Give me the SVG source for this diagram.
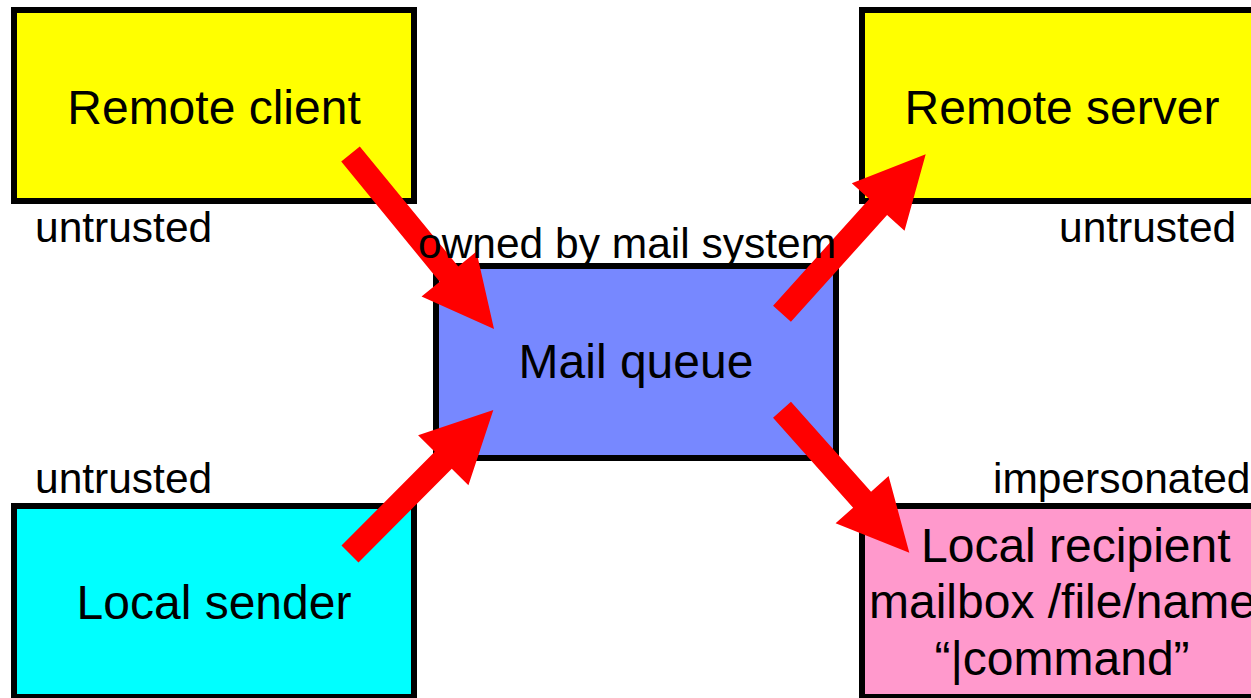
<svg xmlns="http://www.w3.org/2000/svg" width="1251" height="698" viewBox="0 0 1251 698">
  <style>
    .box { stroke: #000000; stroke-width: 6; }
    .big { font-family: "Liberation Sans", Arial, sans-serif; font-size: 48px; fill: #000000; }
    .small { font-family: "Liberation Sans", Arial, sans-serif; font-size: 42.5px; fill: #000000; }
    .mid { text-anchor: middle; }
    .arrow { fill: #FF0000; }
  </style>
  <rect x="0" y="0" width="1251" height="698" fill="#FFFFFF"/>

  <g id="remote-client">
    <rect class="box" x="14" y="10" width="400" height="191" fill="#FFFF00"/>
    <text class="big mid" x="214" y="124">Remote client</text>
  </g>

  <g id="remote-server">
    <rect class="box" x="862" y="10" width="400" height="191" fill="#FFFF00"/>
    <text class="big mid" x="1062" y="124">Remote server</text>
  </g>

  <g id="mail-queue">
    <rect class="box" x="436" y="266" width="400" height="192" fill="#7788FF"/>
    <text class="big mid" x="636" y="378">Mail queue</text>
  </g>

  <g id="local-sender">
    <rect class="box" x="14" y="506" width="400" height="191" fill="#00FFFF"/>
    <text class="big mid" x="214" y="619">Local sender</text>
  </g>

  <g id="local-recipient">
    <rect class="box" x="862" y="506" width="400" height="191" fill="#FF99CC"/>
    <text class="big" x="921" y="562">Local recipient</text>
    <text class="big" x="869" y="618">mailbox /file/name</text>
    <text class="big mid" x="1062" y="675">“|command”</text>
  </g>

  <!-- thick block arrows: tail at origin, tip at x = length -->
  <g id="connectors">
    <polygon class="arrow" transform="translate(350.5,154) rotate(50.64)"
             points="0,-12 155.3,-12 155.3,-35.5 226.3,0 155.3,35.5 155.3,12 0,12"/>
    <polygon class="arrow" transform="translate(350,554) rotate(-45.14)"
             points="0,-12 132.2,-12 132.2,-35.5 203.2,0 132.2,35.5 132.2,12 0,12"/>
    <polygon class="arrow" transform="translate(782,313.7) rotate(-47.96)"
             points="0,-12 143.6,-12 143.6,-35.5 214.6,0 143.6,35.5 143.6,12 0,12"/>
    <polygon class="arrow" transform="translate(782,409.8) rotate(48.3)"
             points="0,-12 120.4,-12 120.4,-35.5 191.4,0 120.4,35.5 120.4,12 0,12"/>
  </g>

  <g id="labels">
    <text class="small" x="35" y="242">untrusted</text>
    <text class="small" x="1059" y="242">untrusted</text>
    <text class="small" x="418" y="258">owned by mail system</text>
    <text class="small" x="35" y="493">untrusted</text>
    <text class="small" x="993" y="493">impersonated</text>
  </g>
</svg>
